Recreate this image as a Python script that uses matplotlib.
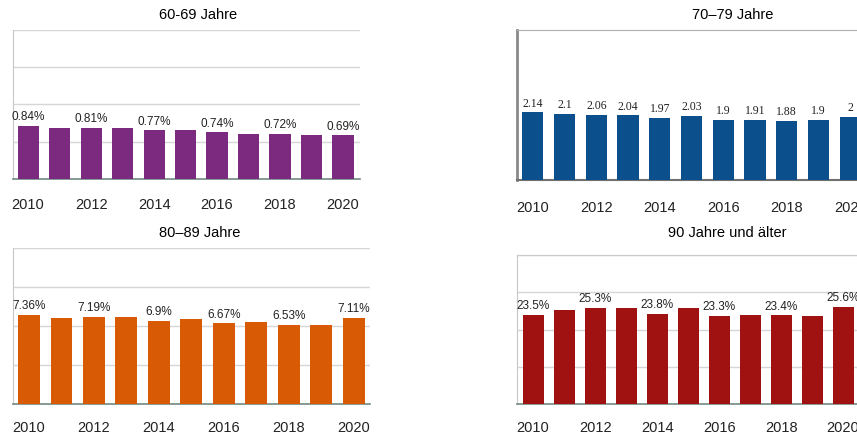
import numpy as np
import matplotlib
matplotlib.use("Agg")
from matplotlib import pyplot as plt

plt.rcParams['font.family'] = ['Liberation Sans', 'DejaVu Sans']

years = list(range(2010, 2021))
tick_years = [2010, 2012, 2014, 2016, 2018, 2020]

# Anteil je Altersgruppe
v_60_69 = [0.84, 0.80, 0.81, 0.80, 0.77, 0.77, 0.74, 0.72, 0.72, 0.69, 0.69]
v_70_79 = [2.14, 2.10, 2.06, 2.04, 1.97, 2.03, 1.90, 1.91, 1.88, 1.90, 2.00]
v_80_89 = [7.36, 7.15, 7.19, 7.18, 6.90, 7.02, 6.67, 6.74, 6.53, 6.52, 7.11]
v_90 = [23.5, 24.8, 25.3, 25.3, 23.8, 25.2, 23.3, 23.6, 23.4, 23.2, 25.6]

lbl_60_69 = ["0.84%", "", "0.81%", "", "0.77%", "", "0.74%", "", "0.72%", "", "0.69%"]
lbl_70_79 = ["2.14", "2.1", "2.06", "2.04", "1.97", "2.03", "1.9", "1.91", "1.88", "1.9", "2"]
lbl_80_89 = ["7.36%", "", "7.19%", "", "6.9%", "", "6.67%", "", "6.53%", "", "7.11%"]
lbl_90 = ["23.5%", "", "25.3%", "", "23.8%", "", "23.3%", "", "23.4%", "", "25.6%"]

W, H = 857, 440
fig = plt.figure(figsize=(W / 100, H / 100), dpi=100)


def px_axes(left, right, top, bottom):
    return fig.add_axes([left / W, 1 - bottom / H, (right - left) / W, (bottom - top) / H])


def panel(rect, vals, labels, color, ytop, xl, grid=True, label_font=None, label_size=8.5, pad=14):
    ax = px_axes(*rect)
    ax.bar(years, vals, width=0.67, color=color, zorder=3)
    ax.set_xlim(*xl)
    ax.set_ylim(0, ytop)
    ax.set_xticks(tick_years)
    ax.set_xticklabels([str(y) for y in tick_years], fontsize=10.5, color="#222222")
    ax.tick_params(axis='x', length=0, pad=pad)
    ax.set_yticks([])
    for y, v, t in zip(years, vals, labels):
        if t:
            kw = {}
            if label_font:
                kw['family'] = label_font
            ax.annotate(t, (y, v), xytext=(0, 2), textcoords='offset points',
                        ha='center', va='bottom', fontsize=label_size, color="#222222", **kw)
    if grid:
        for g in np.linspace(0, ytop, 5)[1:]:
            ax.axhline(g, color="#d6d6d6", lw=1, zorder=1)
        for s in ['top', 'right']:
            ax.spines[s].set_visible(False)
        ax.spines['left'].set_color("#c8c8c8")
        ax.spines['bottom'].set_color("#6f8a80")
        ax.spines['bottom'].set_linewidth(1.2)
    return ax


panel((13, 360, 30, 179), v_60_69, lbl_60_69, "#7b2a7f", 2.36, (2009.52, 2020.54))
fig.text(198 / W, 1 - 15 / H, "60-69 Jahre", ha='center', va='center', fontsize=10.5)

ax2 = panel((517, 866, 30, 180), v_70_79, lbl_70_79, "#0b4f8c", 4.74, (2009.5, 2020.5),
            grid=False, label_font=['Liberation Serif', 'DejaVu Serif'], label_size=8.5, pad=15)
for s in ['top', 'right']:
    ax2.spines[s].set_color("#b0b0b0")
ax2.spines['left'].set_color("#8a8a8a")
ax2.spines['left'].set_linewidth(2)
ax2.spines['bottom'].set_color("#707070")
ax2.spines['bottom'].set_linewidth(1.5)
fig.text(733 / W, 1 - 15 / H, "70\u201379 Jahre", ha='center', va='center', fontsize=10.5)

panel((13, 370, 248, 404), v_80_89, lbl_80_89, "#d95a04", 12.9, (2009.51, 2020.5), pad=12)
fig.text(200 / W, 1 - 233 / H, "80\u201389 Jahre", ha='center', va='center', fontsize=10.5)

ax4 = panel((517, 858, 255, 404), v_90, lbl_90, "#a01212", 39.3, (2009.48, 2020.48), pad=12)
ax4.spines['top'].set_visible(True)
ax4.spines['top'].set_color("#c8c8c8")
fig.text(727 / W, 1 - 233 / H, "90 Jahre und \u00e4lter", ha='center', va='center', fontsize=10.5)

plt.savefig("out.png", dpi=100)
